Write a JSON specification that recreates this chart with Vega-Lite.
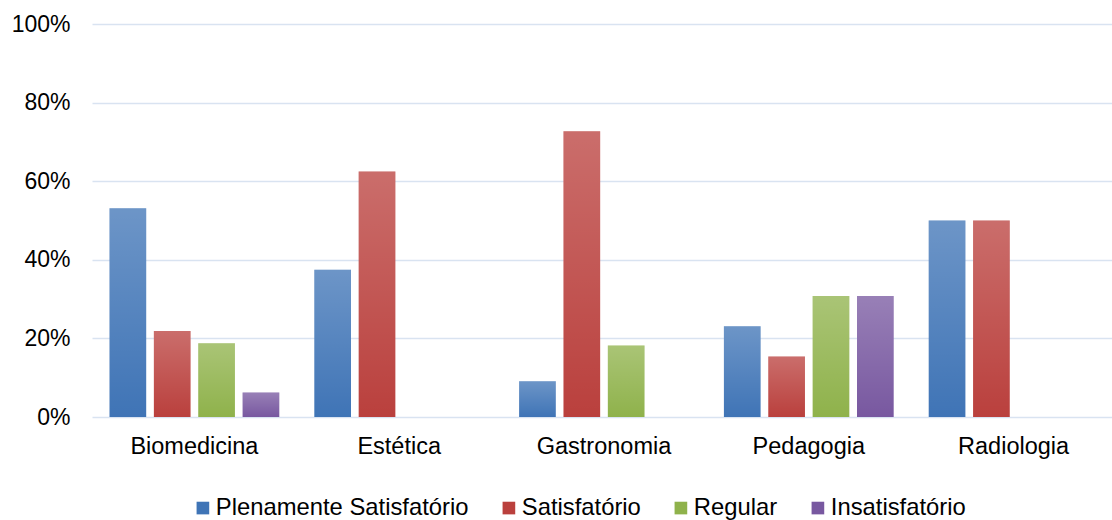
{
  "$schema": "https://vega.github.io/schema/vega-lite/v6.json",
  "autosize": {"type": "none"},
  "width": 1024,
  "height": 393,
  "padding": {"left": 92, "top": 24, "right": 0, "bottom": 103},
  "background": "white",
  "config": {
    "view": {"stroke": null},
    "font": "Liberation Sans",
    "axis": {"labelFont": "Liberation Sans", "labelColor": "#000000"},
    "legend": {"labelFont": "Liberation Sans", "labelColor": "#000000"}
  },
  "data": {
    "values": [
      {"curso": "Biomedicina", "avaliacao": "Plenamente Satisfatório", "valor": 0.53125},
      {"curso": "Biomedicina", "avaliacao": "Satisfatório", "valor": 0.21875},
      {"curso": "Biomedicina", "avaliacao": "Regular", "valor": 0.1875},
      {"curso": "Biomedicina", "avaliacao": "Insatisfatório", "valor": 0.0625},
      {"curso": "Estética", "avaliacao": "Plenamente Satisfatório", "valor": 0.375},
      {"curso": "Estética", "avaliacao": "Satisfatório", "valor": 0.625},
      {"curso": "Gastronomia", "avaliacao": "Plenamente Satisfatório", "valor": 0.0909},
      {"curso": "Gastronomia", "avaliacao": "Satisfatório", "valor": 0.7273},
      {"curso": "Gastronomia", "avaliacao": "Regular", "valor": 0.1818},
      {"curso": "Pedagogia", "avaliacao": "Plenamente Satisfatório", "valor": 0.2308},
      {"curso": "Pedagogia", "avaliacao": "Satisfatório", "valor": 0.1538},
      {"curso": "Pedagogia", "avaliacao": "Regular", "valor": 0.3077},
      {"curso": "Pedagogia", "avaliacao": "Insatisfatório", "valor": 0.3077},
      {"curso": "Radiologia", "avaliacao": "Plenamente Satisfatório", "valor": 0.5},
      {"curso": "Radiologia", "avaliacao": "Satisfatório", "valor": 0.5}
    ]
  },
  "encoding": {
    "x": {
      "field": "curso",
      "type": "nominal",
      "sort": ["Biomedicina", "Estética", "Gastronomia", "Pedagogia", "Radiologia"],
      "scale": {"paddingInner": 0.171, "paddingOuter": 0.0855},
      "axis": {
        "title": null,
        "labelAngle": 0,
        "labelFontSize": 23.5,
        "labelPadding": 17,
        "ticks": false,
        "domain": false,
        "grid": false
      }
    },
    "xOffset": {
      "field": "avaliacao",
      "type": "nominal",
      "sort": ["Plenamente Satisfatório", "Satisfatório", "Regular", "Insatisfatório"],
      "scale": {"paddingInner": 0.173, "paddingOuter": 0}
    },
    "y": {
      "field": "valor",
      "type": "quantitative",
      "scale": {"domain": [0, 1], "nice": false},
      "axis": {
        "title": null,
        "format": ".0%",
        "values": [0, 0.2, 0.4, 0.6, 0.8, 1],
        "labelFontSize": 23,
        "labelPadding": 22,
        "ticks": false,
        "domain": false,
        "grid": true,
        "gridColor": "#d9e3f1",
        "gridWidth": 1.6
      }
    }
  },
  "layer": [
    {
      "mark": {"type": "bar"},
      "encoding": {
        "color": {
          "field": "avaliacao",
          "type": "nominal",
          "sort": ["Plenamente Satisfatório", "Satisfatório", "Regular", "Insatisfatório"],
          "scale": {
            "domain": ["Plenamente Satisfatório", "Satisfatório", "Regular", "Insatisfatório"],
            "range": ["#3f74b6", "#ba403d", "#8fb24b", "#7858a0"]
          },
          "legend": {
            "title": null,
            "orient": "none",
            "direction": "horizontal",
            "legendX": 99,
            "legendY": 472,
            "symbolType": "square",
            "symbolSize": 160,
            "symbolStrokeWidth": 0,
            "labelFontSize": 23.8,
            "labelLimit": 0,
            "labelOffset": 1,
            "columnPadding": 28
          }
        }
      }
    },
    {
      "mark": {
        "type": "bar",
        "fill": {
          "gradient": "linear",
          "x1": 0, "y1": 0, "x2": 0, "y2": 1,
          "stops": [
            {"offset": 0, "color": "rgba(255,255,255,0.24)"},
            {"offset": 1, "color": "rgba(255,255,255,0)"}
          ]
        }
      },
      "encoding": {}
    }
  ]
}
